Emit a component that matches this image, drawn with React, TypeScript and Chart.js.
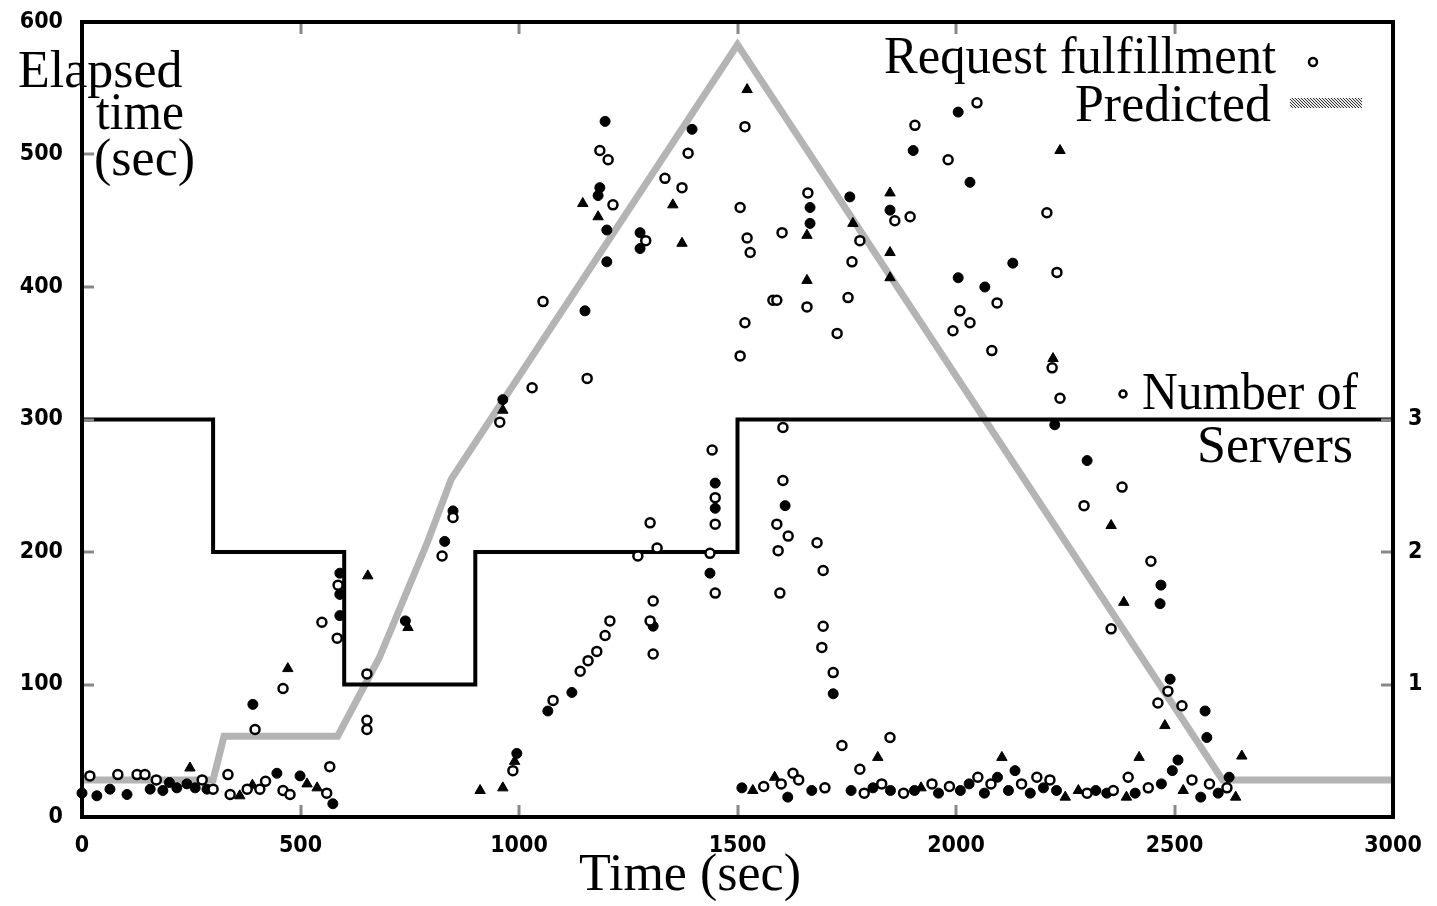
import React, { useEffect, useRef } from 'react';
import { Chart, registerables } from 'chart.js';

Chart.register(...registerables);

// Predicted elapsed time (gray curve)
const predictedTime = [0, 300, 325, 585, 680, 790, 845, 1500, 2610, 3000];
const predictedElapsed = [28, 28, 61, 61, 120, 207, 255, 583, 28, 28];

// Number of servers (right axis, step line)
const serverTime = [0, 300, 600, 900, 1500, 3000];
const serverCount = [3, 2, 1, 2, 3, 3];

// Axis ticks
const xTicks = [0, 500, 1000, 1500, 2000, 2500, 3000];
const yTicks = [0, 100, 200, 300, 400, 500, 600];
const serverTicks = [1, 2, 3];

// Request fulfillment points [time, elapsed] by marker kind
const openPoints = [
  [18, 31], [82, 32], [126, 32], [144, 32], [170, 28], [275, 28], [300, 21], [334, 32], [339, 17], [378, 21],
  [407, 21], [420, 27], [460, 20], [476, 17], [560, 18], [567, 38],
  [396, 66], [460, 97], [549, 147], [584, 135], [586, 175], [652, 108], [652, 73], [652, 66], [824, 197], [849, 226],
  [986, 35], [956, 298], [1030, 324], [1055, 389], [1156, 331],
  [1078, 88], [1140, 110], [1158, 118], [1178, 125], [1197, 137], [1208, 148],
  [1272, 197], [1300, 222], [1316, 203], [1307, 163], [1300, 148], [1307, 123],
  [1215, 462], [1185, 503], [1204, 496], [1290, 435], [1334, 482], [1373, 475], [1387, 501],
  [1437, 199], [1442, 277], [1449, 241], [1449, 221], [1449, 169],
  [1506, 348], [1517, 373], [1581, 390], [1506, 460], [1522, 437], [1529, 426], [1517, 521],
  [1590, 390], [1602, 441], [1661, 471], [1659, 385], [1728, 365], [1753, 392], [1780, 435], [1762, 419],
  [1604, 294], [1604, 254], [1590, 221], [1616, 212], [1593, 201], [1597, 169], [1682, 207], [1696, 186],
  [1696, 144], [1693, 128], [1719, 109],
  [1739, 54], [1849, 60], [1780, 36], [1627, 33],
  [1860, 450], [1895, 453], [1906, 522], [1982, 496], [2048, 539], [2009, 382], [2032, 373], [1993, 367],
  [2094, 388], [2082, 352], [2208, 456], [2231, 411], [2220, 339], [2238, 316], [2293, 235], [2380, 249],
  [2446, 193], [2355, 142], [2485, 95], [2462, 86], [2517, 84], [2394, 30],
  [1560, 23], [1600, 25], [1640, 28], [1700, 22], [1790, 18], [1830, 25], [1880, 18], [1945, 25], [1985, 23],
  [2050, 30], [2080, 25], [2150, 25], [2185, 30], [2215, 28], [2300, 18], [2360, 20], [2440, 22], [2540, 28],
  [2580, 25], [2620, 22],
];

const filledPoints = [
  [0, 18], [34, 16], [64, 21], [103, 17], [156, 21], [185, 20], [200, 26], [217, 22], [240, 25], [259, 22],
  [286, 21], [446, 33], [499, 31], [574, 10],
  [391, 85], [590, 184], [590, 168], [590, 152], [740, 148], [830, 208], [849, 231],
  [995, 48], [963, 315], [1151, 382],
  [1066, 80], [1121, 94], [1307, 144],
  [1181, 469], [1185, 475], [1201, 443], [1201, 419], [1197, 525], [1277, 441], [1277, 429], [1396, 519],
  [1437, 184], [1449, 252], [1449, 233],
  [1666, 460], [1666, 448], [1757, 468], [1609, 235], [1719, 93],
  [1849, 458], [1902, 503], [2005, 532], [2032, 479], [2005, 407], [2066, 400], [2130, 418], [2226, 296],
  [2300, 269], [2469, 175], [2467, 161], [2490, 104], [2570, 80], [2574, 60], [2508, 43], [2625, 30],
  [1510, 22], [1615, 15], [1670, 20], [1760, 20], [1810, 22], [1850, 20], [1905, 20], [1960, 18], [2010, 20],
  [2030, 25], [2065, 18], [2095, 30], [2120, 20], [2135, 35], [2170, 18], [2200, 22], [2230, 20], [2320, 20],
  [2345, 18], [2410, 18], [2470, 25], [2495, 35], [2560, 15], [2600, 18],
];

const trianglePoints = [
  [247, 37], [361, 16], [390, 24], [515, 25], [538, 22], [471, 112], [654, 182], [746, 143], [911, 20],
  [963, 22], [990, 42], [963, 307],
  [1146, 463], [1181, 453], [1352, 462], [1373, 433], [1522, 549], [1659, 439], [1659, 405], [1764, 448],
  [1821, 45], [1849, 471], [1849, 426], [1849, 407], [2238, 503], [2222, 346], [2355, 220], [2384, 162],
  [2478, 69], [2654, 46], [2419, 45],
  [1535, 20], [1585, 30], [1920, 22], [2105, 45], [2250, 15], [2280, 20], [2390, 15], [2520, 20], [2640, 15],
];

const SERIF = '"Liberation Serif", "DejaVu Serif", serif';
const TICKFONT = '"DejaVu Sans Condensed", "Liberation Sans Narrow", sans-serif';

const toXY = (pts: number[][]) => pts.map(([x, y]) => ({ x, y }));

const overlayPlugin = {
  id: 'overlay',
  afterDraw(chart: any) {
    const { ctx, chartArea: a, scales } = chart;
    const x = scales.x;
    const y = scales.y;
    const y2 = scales.y2;
    ctx.save();
    // gray tick marks inside frame
    ctx.strokeStyle = '#888888';
    ctx.lineWidth = 3;
    const L = 12;
    xTicks.slice(1, -1).forEach((t) => {
      const px = Math.round(x.getPixelForValue(t));
      ctx.beginPath();
      ctx.moveTo(px, a.bottom);
      ctx.lineTo(px, a.bottom - L);
      ctx.moveTo(px, a.top);
      ctx.lineTo(px, a.top + L);
      ctx.stroke();
    });
    yTicks.slice(1, -1).forEach((t) => {
      const py = Math.round(y.getPixelForValue(t));
      ctx.beginPath();
      ctx.moveTo(a.left, py);
      ctx.lineTo(a.left + L, py);
      ctx.stroke();
    });
    serverTicks.forEach((t) => {
      const py = Math.round(y2.getPixelForValue(t));
      ctx.beginPath();
      ctx.moveTo(a.right, py);
      ctx.lineTo(a.right - L, py);
      ctx.stroke();
    });
    // frame
    ctx.strokeStyle = '#000';
    ctx.lineWidth = 4;
    ctx.strokeRect(a.left, a.top, a.right - a.left, a.bottom - a.top);

    // texts
    ctx.fillStyle = '#000';
    ctx.font = '52px ' + SERIF;
    ctx.textBaseline = 'alphabetic';
    ctx.textAlign = 'left';
    ctx.fillText('Elapsed', 18, 87, 172);
    ctx.fillText('time', 96, 129, 88);
    ctx.fillText('(sec)', 94, 175, 104);
    ctx.textAlign = 'right';
    ctx.fillText('Request fulfillment', 1276, 73, 392);
    ctx.fillText('Predicted', 1271, 121, 196);
    ctx.fillText('Number of', 1358, 409, 216);
    ctx.fillText('Servers', 1353, 462, 164);
    ctx.textAlign = 'center';
    ctx.fillText('Time (sec)', 690, 890, 222);

    // legend markers
    const openMarker = (cx: number, cy: number, r: number) => {
      ctx.beginPath();
      ctx.arc(cx, cy, r, 0, Math.PI * 2);
      ctx.fillStyle = '#fff';
      ctx.fill();
      ctx.lineWidth = 2.5;
      ctx.strokeStyle = '#000';
      ctx.stroke();
    };
    openMarker(1313, 62, 4);
    openMarker(1123, 394, 3.5);

    // predicted legend sample: checkered gray
    const pc = document.createElement('canvas');
    pc.width = 3;
    pc.height = 3;
    const pctx = pc.getContext('2d')!;
    pctx.fillStyle = '#e8e8e8';
    pctx.fillRect(0, 0, 3, 3);
    pctx.fillStyle = '#333';
    pctx.fillRect(0, 0, 1, 1);
    pctx.fillRect(1, 1, 1, 1);
    pctx.fillRect(2, 2, 1, 1);
    const pat = ctx.createPattern(pc, 'repeat');
    if (pat) {
      ctx.fillStyle = pat;
      ctx.fillRect(1290, 98, 72, 10);
    }
    ctx.restore();
  },
};

const tickFont = { family: TICKFONT, size: 23, weight: 'bold' };

export default function App() {
  const ref = useRef<HTMLCanvasElement | null>(null);
  useEffect(() => {
    if (!ref.current) return;
    const chart = new Chart(ref.current, {
      type: 'scatter',
      data: {
        datasets: [
          {
            label: 'open',
            data: toXY(openPoints),
            pointStyle: 'circle',
            pointRadius: 4.5,
            borderWidth: 2.5,
            borderColor: '#000',
            backgroundColor: '#fff',
            order: 1,
          } as any,
          {
            label: 'filled',
            data: toXY(filledPoints),
            pointStyle: 'circle',
            pointRadius: 5,
            borderWidth: 1,
            borderColor: '#000',
            backgroundColor: '#000',
            order: 1,
          },
          {
            label: 'triangle',
            data: toXY(trianglePoints),
            pointStyle: 'triangle',
            pointRadius: 6,
            borderWidth: 1,
            borderColor: '#000',
            backgroundColor: '#000',
            order: 1,
          },
          {
            type: 'line',
            label: 'Predicted',
            data: predictedTime.map((t, i) => ({ x: t, y: predictedElapsed[i] })),
            borderColor: '#b4b4b4',
            borderWidth: 7,
            pointRadius: 0,
            showLine: true,
            fill: false,
            order: 3,
          } as any,
          {
            type: 'line',
            label: 'Number of Servers',
            data: serverTime.map((t, i) => ({ x: t, y: serverCount[i] })),
            yAxisID: 'y2',
            borderColor: '#000',
            borderWidth: 4,
            pointRadius: 0,
            stepped: true,
            showLine: true,
            fill: false,
            order: 2,
          } as any,
        ],
      },
      options: {
        responsive: false,
        devicePixelRatio: 1,
        animation: false,
        clip: false as any,
        layout: { padding: { top: 22, left: 0, right: 0, bottom: 0 } },
        plugins: { legend: { display: false }, tooltip: { enabled: false } },
        scales: {
          x: {
            type: 'linear',
            position: 'bottom',
            min: 0,
            max: 3000,
            afterBuildTicks: (s: any) => {
              s.ticks = xTicks.map((v) => ({ value: v }));
            },
            ticks: {
              color: '#000',
              padding: 15,
              maxRotation: 0,
              font: tickFont,
              callback: (v: any) => String(v),
            },
            grid: { display: false, drawTicks: false },
            border: { display: false },
            afterFit: (s: any) => {
              s.height = 89;
              s.paddingLeft = 0;
              s.paddingRight = 0;
            },
          },
          y: {
            type: 'linear',
            position: 'left',
            min: 0,
            max: 600,
            afterBuildTicks: (s: any) => {
              s.ticks = yTicks.map((v) => ({ value: v }));
            },
            ticks: {
              color: '#000',
              padding: 19,
              font: tickFont,
              callback: (v: any) => String(v),
            },
            grid: { display: false, drawTicks: false },
            border: { display: false },
            afterFit: (s: any) => {
              s.width = 82;
              s.paddingTop = 0;
              s.paddingBottom = 0;
            },
          },
          y2: {
            type: 'linear',
            position: 'right',
            min: 0,
            max: 6,
            afterBuildTicks: (s: any) => {
              s.ticks = serverTicks.map((v) => ({ value: v }));
            },
            ticks: {
              color: '#000',
              padding: 15,
              font: tickFont,
              callback: (v: any) => String(v),
            },
            grid: { display: false, drawTicks: false },
            border: { display: false },
            afterFit: (s: any) => {
              s.width = 44;
              s.paddingTop = 0;
              s.paddingBottom = 0;
            },
          },
        },
      } as any,
      plugins: [overlayPlugin],
    });
    return () => chart.destroy();
  }, []);

  return (
    <div style={{ position: 'absolute', left: 0, top: 0, width: 1437, height: 906, background: '#fff' }}>
      <canvas ref={ref} width={1437} height={906} style={{ display: 'block', width: 1437, height: 906 }} />
    </div>
  );
}
